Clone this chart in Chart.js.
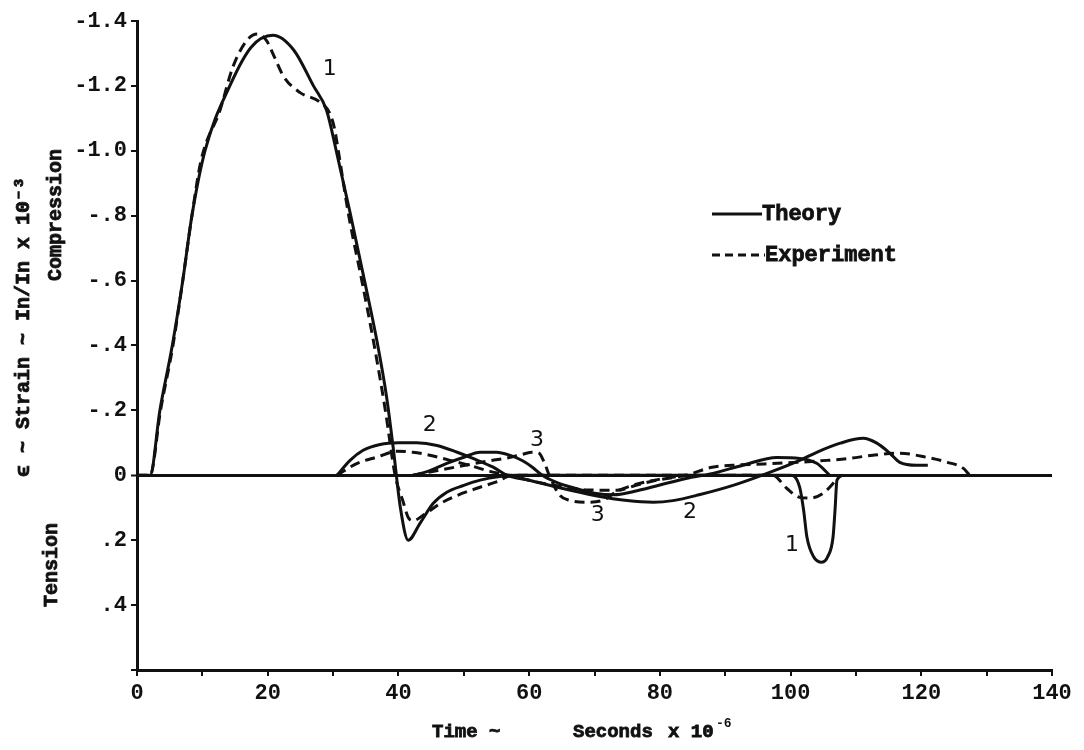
<!DOCTYPE html>
<html>
<head>
<meta charset="utf-8">
<script src="https://cdn.jsdelivr.net/npm/chart.js@4.4.1/dist/chart.umd.min.js"></script>
<style>
  body { margin: 0; background: #fff; }
  #wrap { width: 1084px; height: 750px; }
</style>
</head>
<body>
<div id="wrap"><canvas id="strain" width="1084" height="750"></canvas></div>
<script>
// time in microseconds, strain in In/In x 10^-3 (negative = compression)
let theoryT1 = [0, 2, 3.5, 5.4, 7, 8.4, 10.4, 14.2, 17.5, 20.8, 24, 27, 29, 30.6, 32.6, 34.6, 36.7, 38.2, 39.2, 40.3, 41.5, 43.3, 45.3, 47.4, 50, 52.5, 55.5, 58, 100, 101.4, 102, 102.5, 103.5, 104.8, 105.7, 106.5, 106.8, 107.1, 108];
let theoryS1 = [0, 0, -0.2, -0.4, -0.6, -0.8, -1.0, -1.2, -1.32, -1.356, -1.31, -1.2, -1.125, -0.99, -0.81, -0.62, -0.415, -0.24, -0.085, 0.1, 0.2, 0.148, 0.087, 0.052, 0.031, 0.015, 0.004, 0, 0, 0.037, 0.108, 0.19, 0.25, 0.268, 0.25, 0.19, 0.108, 0.015, 0];

let expT1 = [0, 2, 3.6, 5.5, 7, 8.4, 9.8, 12.7, 14.7, 16.8, 18.4, 19.8, 21, 22.4, 24.9, 28, 29.5, 30.2, 30.8, 32.4, 34.4, 36.3, 38, 39.5, 40.7, 41.5, 42.2, 44, 46.4, 49, 52, 55, 57.5, 97.3, 99.4, 101.4, 103, 105, 106.5, 107.5];
let expS1 = [0, 0, -0.2, -0.4, -0.6, -0.8, -0.97, -1.125, -1.26, -1.34, -1.36, -1.34, -1.29, -1.23, -1.18, -1.15, -1.115, -1.07, -1.0, -0.8, -0.6, -0.4, -0.2, 0, 0.08, 0.13, 0.14, 0.12, 0.087, 0.062, 0.04, 0.02, 0, 0, 0.04, 0.068, 0.07, 0.055, 0.025, 0];

let theoryT2 = [30.6, 32.6, 34.6, 37.2, 40, 42.8, 45.9, 49, 51.4, 54.5, 56.6, 60, 65, 70, 75, 79, 82, 86, 91.2, 96.4, 101.4, 104, 107.6, 111.1, 113.2, 115.2, 116.7, 119.3, 121];
let theoryS2 = [0, -0.046, -0.077, -0.095, -0.1, -0.1, -0.092, -0.071, -0.052, -0.025, 0, 0.015, 0.04, 0.062, 0.078, 0.083, 0.078, 0.06, 0.031, -0.006, -0.046, -0.071, -0.099, -0.114, -0.099, -0.068, -0.04, -0.031, -0.031];

let expT2 = [30.6, 33.7, 36.7, 39.8, 42.2, 44.8, 47.9, 51, 54, 57, 61, 65, 69, 73.4, 76.5, 79.5, 84, 88, 91.2, 96, 101, 105.6, 109, 112.6, 116.7, 120.9, 124, 126.4, 127.4];
let expS2 = [0, -0.037, -0.056, -0.074, -0.071, -0.062, -0.046, -0.03, -0.012, 0, 0.02, 0.035, 0.045, 0.046, 0.03, 0.015, 0, -0.025, -0.031, -0.035, -0.04, -0.046, -0.052, -0.062, -0.068, -0.055, -0.04, -0.022, 0];

let theoryT3 = [42.2, 44.5, 47.4, 49.9, 52.5, 55, 57, 59, 60.5, 62, 64, 67, 70, 73, 76, 80, 84, 88.1, 92.7, 97.9, 101.4, 104, 106];
let theoryS3 = [0, -0.012, -0.037, -0.055, -0.071, -0.071, -0.062, -0.045, -0.025, 0, 0.02, 0.04, 0.055, 0.06, 0.05, 0.03, 0.01, -0.006, -0.031, -0.055, -0.052, -0.037, 0];

let expT3 = [42.2, 46, 50, 54, 57, 59, 60.5, 61.5, 62.3, 63.2, 64.7, 66.2, 68.8, 71.3, 73.4, 76, 80, 84];
let expS3 = [0, -0.015, -0.03, -0.045, -0.055, -0.065, -0.071, -0.068, -0.04, 0.006, 0.062, 0.077, 0.083, 0.077, 0.05, 0.03, 0.012, 0];

// curve numbers written on the plot: [label, time, strain]
let curveLabels = [["1", 29.5, -1.25], ["2", 44.8, -0.155], ["3", 61.2, -0.108], ["3", 70.5, 0.123], ["2", 84.6, 0.114], ["1", 100.2, 0.216]];

let xTickLabels = [0, 20, 40, 60, 80, 100, 120, 140];

const INK = '#111';
const MONO = "'Liberation Mono', 'DejaVu Sans Mono', monospace";

function toPoints(t, s){
    return t.map((v, i) => ({x: v, y: s[i]}));
}

function curve(t, s, dashed){
    return {
        data: toPoints(t, s),
        borderColor: INK,
        borderWidth: 3,
        borderDash: dashed ? [10, 6] : [],
        pointRadius: 0,
        fill: false,
        cubicInterpolationMode: 'monotone'
    };
}

function yLabel(v){
    let r = Math.round(v * 10) / 10;
    if (r === 0) return '0';
    if (r >= 0.6) return '';
    if (r === -1) return '-1.0';
    let txt = Math.abs(r) < 1 ? String(Math.abs(r)).replace('0.', '.') : String(Math.abs(r));
    return (r < 0 ? '-' : '') + txt;
}

// heavy typewriter look: fill plus a thin stroke
function heavyText(ctx, txt, x, y){
    ctx.fillText(txt, x, y);
    ctx.lineWidth = 0.8;
    ctx.strokeText(txt, x, y);
}

// texts that are not part of Chart.js scales
const notes = {
    id: 'notes',
    afterDraw(chart){
        const ctx = chart.ctx;
        const xs = chart.scales.x, ys = chart.scales.y;
        ctx.save();
        ctx.fillStyle = INK;
        ctx.strokeStyle = INK;

        // curve numbers
        ctx.font = "22px 'DejaVu Sans', sans-serif";
        ctx.textAlign = 'center';
        ctx.textBaseline = 'middle';
        curveLabels.forEach(l => {
            ctx.fillText(l[0], xs.getPixelForValue(l[1]), ys.getPixelForValue(l[2]));
        });

        // legend
        ctx.font = 'bold 22px ' + MONO;
        ctx.textAlign = 'left';
        ctx.lineWidth = 3;
        ctx.beginPath(); ctx.moveTo(712, 214); ctx.lineTo(762, 214); ctx.stroke();
        heavyText(ctx, 'Theory', 762, 214);
        ctx.lineWidth = 3;
        ctx.setLineDash([8, 5]);
        ctx.beginPath(); ctx.moveTo(712, 255); ctx.lineTo(765, 255); ctx.stroke();
        ctx.setLineDash([]);
        heavyText(ctx, 'Experiment', 765, 255);

        // x title
        ctx.font = 'bold 19px ' + MONO;
        heavyText(ctx, 'Time ~', 432, 732);
        heavyText(ctx, 'Seconds', 573, 732);
        heavyText(ctx, 'x 10', 668, 732);
        ctx.font = 'bold 13px ' + MONO;
        ctx.fillText('-6', 716, 724);

        // y titles, rotated
        ctx.textAlign = 'center';
        ctx.font = 'bold 20px ' + MONO;
        ctx.translate(24, 327);
        ctx.rotate(-Math.PI / 2);
        heavyText(ctx, '\u03f5 ~ Strain ~ In/In x 10\u207b\u00b3', 0, 0);
        ctx.rotate(Math.PI / 2);
        ctx.translate(-24, -327);

        ctx.translate(56, 215);
        ctx.rotate(-Math.PI / 2);
        heavyText(ctx, 'Compression', 0, 0);
        ctx.rotate(Math.PI / 2);
        ctx.translate(-56, -215);

        ctx.translate(52, 565);
        ctx.rotate(-Math.PI / 2);
        heavyText(ctx, 'Tension', 0, 0);
        ctx.restore();
    }
};

const chart = new Chart(document.getElementById('strain').getContext('2d'), {
    type: 'line',
    data: {
        datasets: [
            curve(theoryT1, theoryS1, false),
            curve(expT1, expS1, true),
            curve(theoryT2, theoryS2, false),
            curve(expT2, expS2, true),
            curve(theoryT3, theoryS3, false),
            curve(expT3, expS3, true)
        ]
    },
    options: {
        responsive: false,
        devicePixelRatio: 1,
        animation: false,
        layout: { padding: { left: 0, top: 21, right: 32, bottom: 0 } },
        plugins: {
            legend: { display: false },
            tooltip: { enabled: false }
        },
        scales: {
            x: {
                type: 'linear',
                min: 0,
                max: 140,
                afterFit: s => { s.height = 80; },
                border: { color: INK, width: 3 },
                grid: { drawOnChartArea: false, color: INK, tickLength: 6, lineWidth: 2 },
                ticks: {
                    stepSize: 10,
                    color: INK,
                    padding: 4,
                    maxRotation: 0,
                    font: { family: MONO, size: 22, weight: 'bold' },
                    callback: v => xTickLabels.includes(v) ? String(v) : ''
                }
            },
            y: {
                min: -1.4,
                max: 0.6,
                reverse: true,
                afterFit: s => { s.width = 137; },
                border: { color: INK, width: 3 },
                grid: {
                    color: c => c.tick && Math.abs(c.tick.value) < 1e-9 ? INK : 'rgba(0,0,0,0)',
                    lineWidth: c => c.tick && Math.abs(c.tick.value) < 1e-9 ? 3 : 0,
                    tickColor: INK,
                    tickWidth: 2,
                    tickLength: 6
                },
                ticks: {
                    stepSize: 0.2,
                    color: INK,
                    padding: 4,
                    font: { family: MONO, size: 22, weight: 'bold' },
                    callback: v => yLabel(v)
                }
            }
        }
    },
    plugins: [notes]
});
</script>
</body>
</html>
